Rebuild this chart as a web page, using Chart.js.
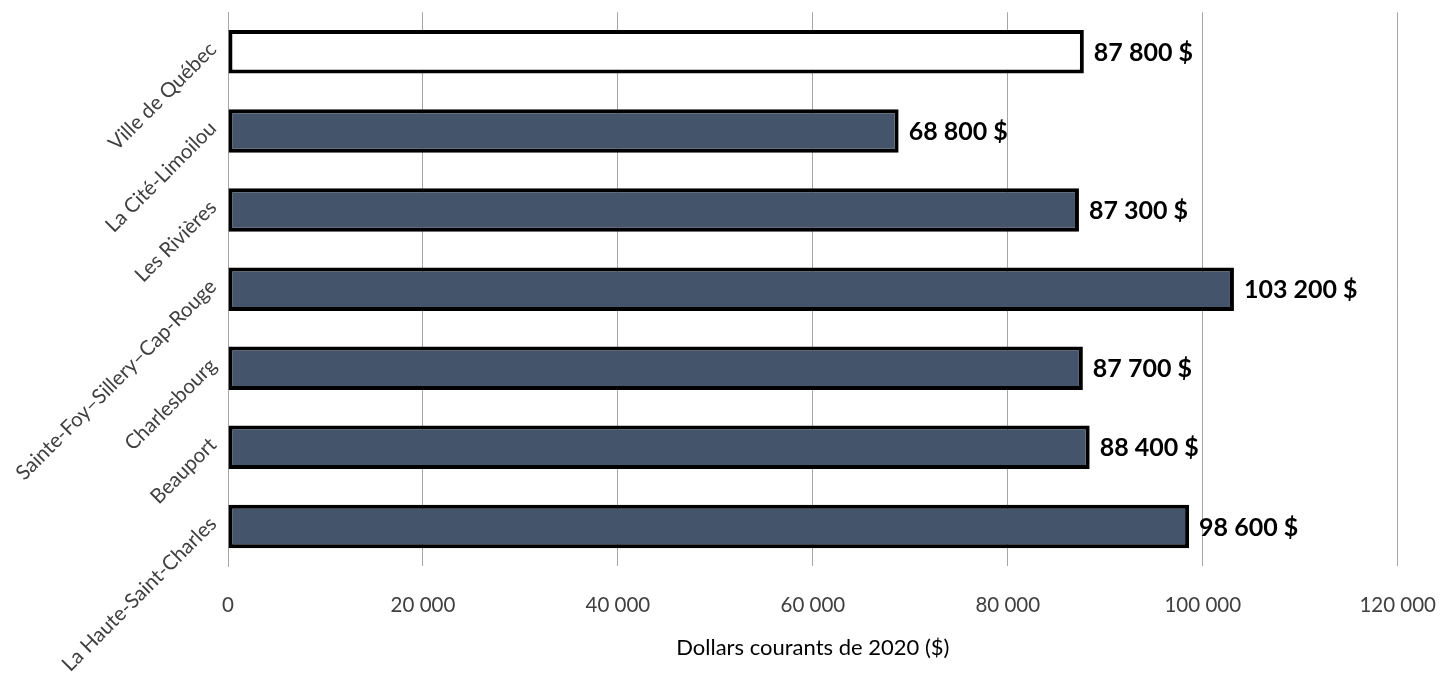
<!DOCTYPE html>
<html>
<head>
<meta charset="utf-8">
<script src="https://cdn.jsdelivr.net/npm/chart.js@4.4.1/dist/chart.umd.min.js"></script>
<style>
  html, body { margin: 0; padding: 0; background: #fff; }
  #wrap { width: 1444px; height: 675px; }
</style>
</head>
<body>
<div id="wrap"><canvas id="incomeChart"></canvas></div>
<script>
// revenu médian des ménages par arrondissement
const categories = [
    'Ville de Québec',
    'La Cité-Limoilou',
    'Les Rivières',
    'Sainte-Foy–Sillery–Cap-Rouge',
    'Charlesbourg',
    'Beauport',
    'La Haute-Saint-Charles'
];
const values = [87800, 68800, 87300, 103200, 87700, 88400, 98600];
const barColors = ['#ffffff', '#44546a', '#44546a', '#44546a', '#44546a', '#44546a', '#44546a'];
const xTicks = [0, 20000, 40000, 60000, 80000, 100000, 120000];

const fmt = v => String(v).replace(/\B(?=(\d{3})+(?!\d))/g, ' ');

// étiquettes de valeur au bout des barres
const valueLabels = {
    id: 'valueLabels',
    afterDatasetsDraw(chart) {
        const ctx = chart.ctx;
        const meta = chart.getDatasetMeta(0);
        ctx.save();
        ctx.font = 'bold 25px Lato';
        ctx.fillStyle = '#000';
        ctx.textAlign = 'left';
        ctx.textBaseline = 'middle';
        meta.data.forEach((bar, i) => {
            ctx.fillText(fmt(values[i]) + ' $', bar.x + 10, bar.y + 1);
        });
        ctx.restore();
    }
};

const ctx = document.getElementById('incomeChart').getContext('2d');
const incomeChart = new Chart(ctx, {
    type: 'bar',
    data: {
        labels: categories,
        datasets: [{
            data: values,
            backgroundColor: barColors,
            borderColor: '#000',
            borderWidth: 4,
            borderSkipped: false,
            barPercentage: 0.55,
            categoryPercentage: 1
        }]
    },
    plugins: [valueLabels],
    options: {
        indexAxis: 'y',
        responsive: true,
        maintainAspectRatio: false,
        animation: false,
        layout: { padding: { top: 0, right: 0, bottom: 14, left: 0 } },
        plugins: {
            legend: { display: false },
            tooltip: { enabled: false }
        },
        scales: {
            x: {
                min: 0,
                max: 120000,
                afterBuildTicks: axis => { axis.ticks = xTicks.map(v => ({ value: v })); },
                grid: { color: '#a6a6a6', lineWidth: 1, drawTicks: true, tickLength: 19, tickColor: 'rgba(0,0,0,0)' },
                border: { display: false },
                ticks: {
                    color: '#404040',
                    font: { family: 'Lato', size: 20.5 },
                    padding: 8,
                    callback: v => fmt(v)
                },
                title: {
                    display: true,
                    text: 'Dollars courants de 2020 ($)',
                    color: '#000',
                    font: { family: 'Lato', size: 22 },
                    padding: { top: 9, bottom: 0 }
                }
            },
            y: {
                afterFit: axis => { axis.width = 228; },
                grid: { color: 'rgba(0,0,0,0)', drawTicks: true, tickLength: 15 },
                border: { display: true, color: '#a6a6a6', width: 1 },
                ticks: {
                    color: '#404040',
                    font: { family: 'Lato', size: 20.5 },
                    minRotation: 45,
                    maxRotation: 45,
                    padding: 0,
                    labelOffset: -6
                }
            }
        }
    }
});
</script>
</body>
</html>
